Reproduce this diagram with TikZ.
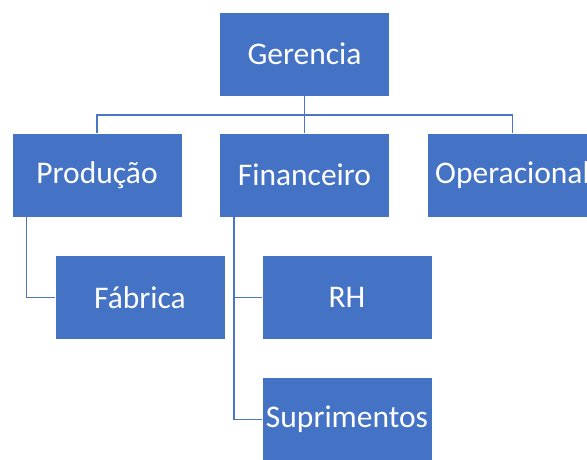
\documentclass[tikz,border=0pt]{standalone}
\usepackage{fontspec}
\setmainfont{Carlito}
\usetikzlibrary{calc}
\definecolor{boxblue}{HTML}{4472C4}
\definecolor{lineblue}{HTML}{4A76C6}
\tikzset{
  orgbox/.style={rectangle, fill=boxblue, draw=white, line width=0.8pt,
    minimum width=170pt, minimum height=84pt, inner sep=0pt,
    text=white, font=\fontsize{31.5}{37}\selectfont},
  conn/.style={draw=lineblue, line width=1.3pt}
}
\begin{document}
\begin{tikzpicture}[x=1pt,y=1pt]
\useasboundingbox (0,0) rectangle (587,-459);
\clip (0,0) rectangle (587,-459);
\fill[white] (0,0) rectangle (587,-459);
\node[orgbox] (g) at (304.5,-54) {Gerencia};
\node[orgbox] (p) at (97,-175) {Produção};
\node[orgbox] (fi) at (304.5,-175) {Financeiro};
\node[orgbox] (o) at (512.5,-175) {Operacional};
\node[orgbox] (fa) at (140,-297.5) {Fábrica};
\node[orgbox] (rh) at (347,-297.5) {RH};
\node[orgbox] (s) at (347,-419.5) {Suprimentos};
\coordinate (bus) at (304.5,-115);
\draw[conn] (g.south) -- (bus);
\draw[conn] (bus) -| (p.north);
\draw[conn] (bus) -- (fi.north);
\draw[conn] (bus) -| (o.north);
\draw[conn] ($(p.south west)+(15,0)$) |- (fa.west);
\draw[conn] ($(fi.south west)+(15,0)$) |- (rh.west);
\draw[conn] ($(fi.south west)+(15,0)$) |- (s.west);
\end{tikzpicture}
\end{document}
